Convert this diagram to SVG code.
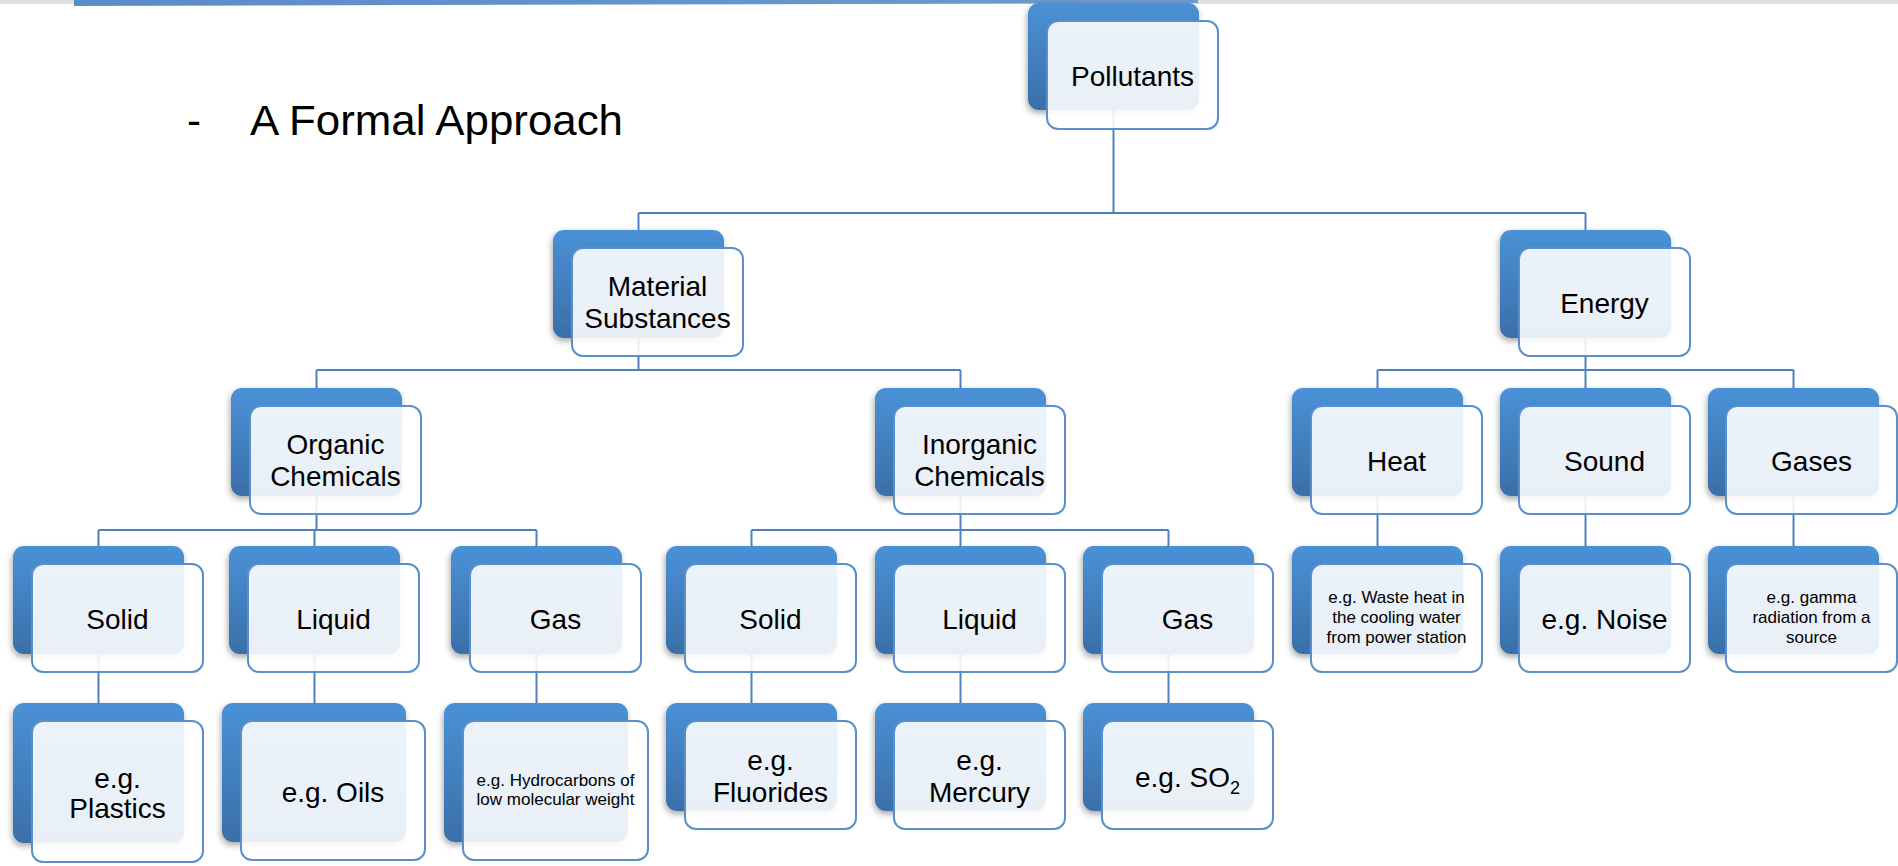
<svg xmlns="http://www.w3.org/2000/svg" width="1898" height="866" viewBox="0 0 1898 866">
<defs>
<linearGradient id="gBack" x1="0" y1="0" x2="0" y2="1">
<stop offset="0" stop-color="#4a91d7"/>
<stop offset="1" stop-color="#3a6fa8"/>
</linearGradient>
<linearGradient id="gBar" x1="0" y1="0" x2="1" y2="0">
<stop offset="0" stop-color="#5a8cc6"/>
<stop offset="1" stop-color="#6d9bd0"/>
</linearGradient>
<filter id="sh" x="-20%" y="-20%" width="140%" height="140%">
<feDropShadow dx="-1" dy="3" stdDeviation="3" flood-color="#000" flood-opacity="0.35"/>
</filter>
</defs>
<style>
.b{fill:url(#gBack);filter:url(#sh)}
.f{fill:#ffffff;fill-opacity:0.89;stroke:#5b8fc9;stroke-width:2}
.t{font-family:"Liberation Sans",Arial,sans-serif;font-size:28px;fill:#000;text-anchor:middle}
.s{font-family:"Liberation Sans",Arial,sans-serif;font-size:17px;fill:#000;text-anchor:middle}
.c{fill:none;stroke:#4f81bd;stroke-width:2}
</style>
<rect x="0" y="0" width="1898" height="4" fill="#dedede"/>
<polygon points="74,0 1198,0 1198,3 74,6" fill="url(#gBar)"/>
<g id="title">
<text x="187" y="135" font-family="Liberation Sans, Arial, sans-serif" font-size="42" fill="#000">-</text>
<text x="250" y="135" font-family="Liberation Sans, Arial, sans-serif" font-size="42" fill="#000" textLength="373" lengthAdjust="spacingAndGlyphs">A Formal Approach</text>
</g>
<g id="connectors">
<path class="c" d="M1113.5,110 V213 M638.5,213 H1585.5 M638.5,213 V230 M1585.5,213 V230"/>
<path class="c" d="M638.5,338 V370 M316.5,370 H960.5 M316.5,370 V388 M960.5,370 V388"/>
<path class="c" d="M1585.5,338 V370 M1377.5,370 H1793.5 M1377.5,370 V388 M1793.5,370 V388 M1585.5,370 V388"/>
<path class="c" d="M316.5,496 V530 M98.5,530 H536.5 M98.5,530 V546 M314.5,530 V546 M536.5,530 V546"/>
<path class="c" d="M960.5,496 V530 M751.5,530 H1168.5 M751.5,530 V546 M960.5,530 V546 M1168.5,530 V546"/>
<path class="c" d="M1377.5,496 V546 M1585.5,496 V546 M1793.5,496 V546"/>
<path class="c" d="M98.5,654 V703 M314.5,654 V703 M536.5,654 V703"/>
<path class="c" d="M751.5,654 V703 M960.5,654 V703 M1168.5,654 V703"/>
</g>
<g id="pollutants"><rect class="b" x="1028" y="3" width="171" height="107" rx="11"/><rect class="f" x="1047" y="21" width="171" height="108" rx="11"/><text class="t" x="1132.5" y="86" font-size="29">Pollutants</text></g>
<g id="material"><rect class="b" x="553" y="230" width="171" height="108" rx="11"/><rect class="f" x="572" y="248" width="171" height="108" rx="11"/><text class="t" x="657.5" y="296">Material</text><text class="t" x="657.5" y="328">Substances</text></g>
<g id="energy"><rect class="b" x="1500" y="230" width="171" height="108" rx="11"/><rect class="f" x="1519" y="248" width="171" height="108" rx="11"/><text class="t" x="1604.5" y="313">Energy</text></g>
<g id="organic"><rect class="b" x="231" y="388" width="171" height="108" rx="11"/><rect class="f" x="250" y="406" width="171" height="108" rx="11"/><text class="t" x="335.5" y="454">Organic</text><text class="t" x="335.5" y="486">Chemicals</text></g>
<g id="inorganic"><rect class="b" x="875" y="388" width="171" height="108" rx="11"/><rect class="f" x="894" y="406" width="171" height="108" rx="11"/><text class="t" x="979.5" y="454">Inorganic</text><text class="t" x="979.5" y="486">Chemicals</text></g>
<g id="heat"><rect class="b" x="1292" y="388" width="171" height="108" rx="11"/><rect class="f" x="1311" y="406" width="171" height="108" rx="11"/><text class="t" x="1396.5" y="471">Heat</text></g>
<g id="sound"><rect class="b" x="1500" y="388" width="171" height="108" rx="11"/><rect class="f" x="1519" y="406" width="171" height="108" rx="11"/><text class="t" x="1604.5" y="471">Sound</text></g>
<g id="gases"><rect class="b" x="1708" y="388" width="171" height="108" rx="11"/><rect class="f" x="1726" y="406" width="171" height="108" rx="11"/><text class="t" x="1811.5" y="471">Gases</text></g>
<g id="org-solid"><rect class="b" x="13" y="546" width="171" height="108" rx="11"/><rect class="f" x="32" y="564" width="171" height="108" rx="11"/><text class="t" x="117.5" y="629">Solid</text></g>
<g id="org-liquid"><rect class="b" x="229" y="546" width="171" height="108" rx="11"/><rect class="f" x="248" y="564" width="171" height="108" rx="11"/><text class="t" x="333.5" y="629">Liquid</text></g>
<g id="org-gas"><rect class="b" x="451" y="546" width="171" height="108" rx="11"/><rect class="f" x="470" y="564" width="171" height="108" rx="11"/><text class="t" x="555.5" y="629">Gas</text></g>
<g id="inorg-solid"><rect class="b" x="666" y="546" width="171" height="108" rx="11"/><rect class="f" x="685" y="564" width="171" height="108" rx="11"/><text class="t" x="770.5" y="629">Solid</text></g>
<g id="inorg-liquid"><rect class="b" x="875" y="546" width="171" height="108" rx="11"/><rect class="f" x="894" y="564" width="171" height="108" rx="11"/><text class="t" x="979.5" y="629">Liquid</text></g>
<g id="inorg-gas"><rect class="b" x="1083" y="546" width="171" height="108" rx="11"/><rect class="f" x="1102" y="564" width="171" height="108" rx="11"/><text class="t" x="1187.5" y="629">Gas</text></g>
<g id="waste-heat"><rect class="b" x="1292" y="546" width="171" height="108" rx="11"/><rect class="f" x="1311" y="564" width="171" height="108" rx="11"/><text class="s" x="1396.5" y="603">e.g. Waste heat in</text><text class="s" x="1396.5" y="623">the cooling water</text><text class="s" x="1396.5" y="643">from power station</text></g>
<g id="noise"><rect class="b" x="1500" y="546" width="171" height="108" rx="11"/><rect class="f" x="1519" y="564" width="171" height="108" rx="11"/><text class="t" x="1604.5" y="629">e.g. Noise</text></g>
<g id="gamma"><rect class="b" x="1708" y="546" width="171" height="108" rx="11"/><rect class="f" x="1726" y="564" width="171" height="108" rx="11"/><text class="s" x="1811.5" y="603">e.g. gamma</text><text class="s" x="1811.5" y="623">radiation from a</text><text class="s" x="1811.5" y="643">source</text></g>
<g id="plastics"><rect class="b" x="13" y="703" width="171" height="140" rx="11"/><rect class="f" x="32" y="721" width="171" height="141" rx="11"/><text class="t" x="117.5" y="788">e.g.</text><text class="t" x="117.5" y="818">Plastics</text></g>
<g id="oils"><rect class="b" x="222" y="703" width="184" height="139" rx="11"/><rect class="f" x="241" y="721" width="184" height="139" rx="11"/><text class="t" x="333" y="802">e.g. Oils</text></g>
<g id="hydrocarbons"><rect class="b" x="444" y="703" width="184" height="139" rx="11"/><rect class="f" x="463" y="721" width="185" height="139" rx="11"/><text class="s" x="555.5" y="786" font-size="17.5">e.g. Hydrocarbons of</text><text class="s" x="555.5" y="805" font-size="17.5">low molecular weight</text></g>
<g id="fluorides"><rect class="b" x="666" y="703" width="171" height="108" rx="11"/><rect class="f" x="685" y="721" width="171" height="108" rx="11"/><text class="t" x="770.5" y="770">e.g.</text><text class="t" x="770.5" y="802">Fluorides</text></g>
<g id="mercury"><rect class="b" x="875" y="703" width="171" height="108" rx="11"/><rect class="f" x="894" y="721" width="171" height="108" rx="11"/><text class="t" x="979.5" y="770">e.g.</text><text class="t" x="979.5" y="802">Mercury</text></g>
<g id="so2"><rect class="b" x="1083" y="703" width="171" height="108" rx="11"/><rect class="f" x="1102" y="721" width="171" height="108" rx="11"/><text class="t" x="1187.5" y="787">e.g. SO<tspan font-size="18" dy="7">2</tspan></text></g>
</svg>
